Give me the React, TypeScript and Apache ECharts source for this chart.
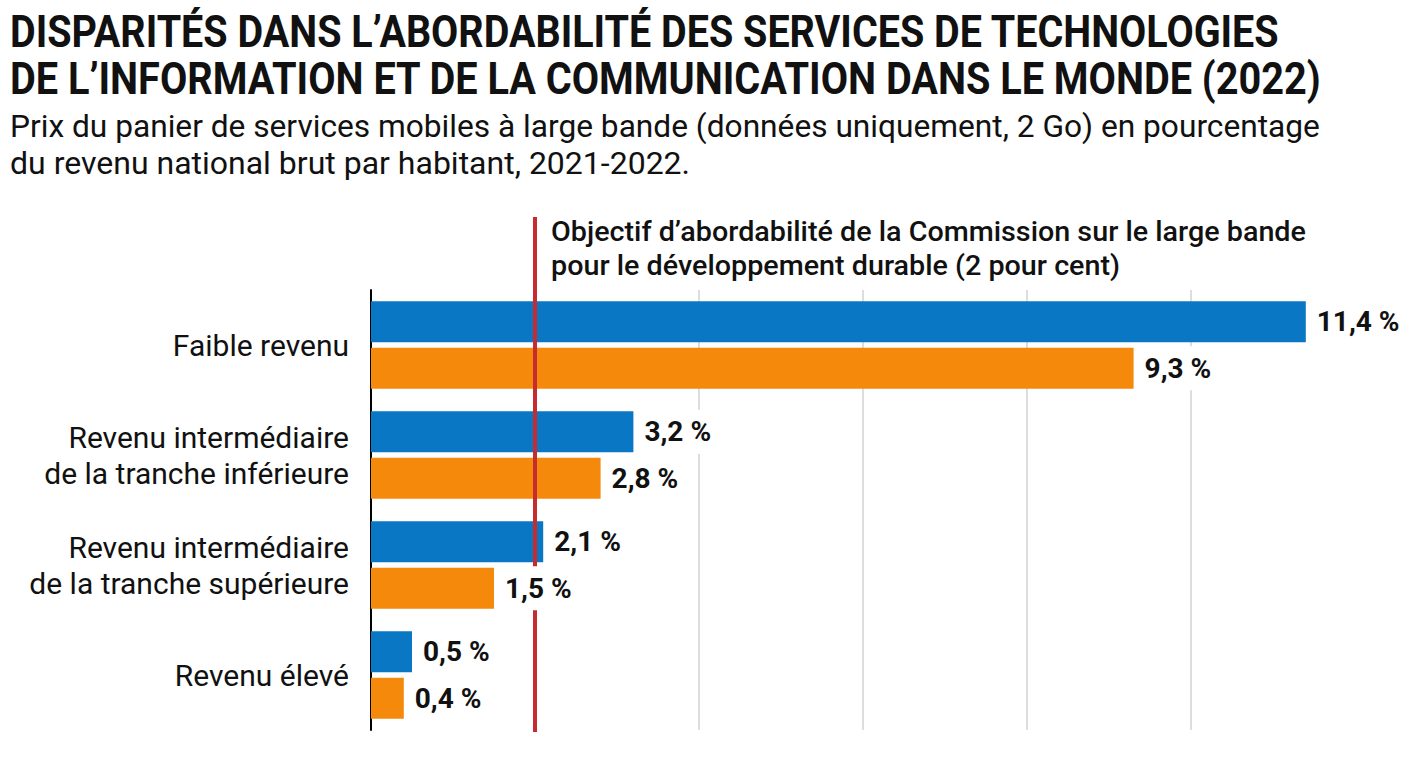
import React, { useEffect, useRef } from "react";
import * as echarts from "echarts";

const CATEGORIES = [
  "Faible revenu",
  "Revenu intermédiaire\nde la tranche inférieure",
  "Revenu intermédiaire\nde la tranche supérieure",
  "Revenu élevé",
];
const SERIES_2021 = [11.4, 3.2, 2.1, 0.5];
const SERIES_2022 = [9.3, 2.8, 1.5, 0.4];
const GRID_VALUES = [4, 6, 8, 10];
const TARGET = 2;

const TITLE_LINES = [
  "DISPARITÉS DANS L’ABORDABILITÉ DES SERVICES DE TECHNOLOGIES",
  "DE L’INFORMATION ET DE LA COMMUNICATION DANS LE MONDE (2022)",
];
const SUBTITLE_LINES = [
  "Prix du panier de services mobiles à large bande (données uniquement, 2 Go) en pourcentage",
  "du revenu national brut par habitant, 2021-2022.",
];
const NOTE_LINES = [
  "Objectif d’abordabilité de la Commission sur le large bande",
  "pour le développement durable (2 pour cent)",
];

const BLUE = "#0A77C5";
const ORANGE = "#F4890C";
const RED = "#C62B30";
const INK = "#111111";

const GRID = { left: 371, right: 53, top: 290, bottom: 38 };

function measure(text: string, font: string): number {
  const c = document.createElement("canvas").getContext("2d");
  if (!c) return text.length * 10;
  c.font = font;
  return c.measureText(text).width;
}

function hasFont(name: string): boolean {
  const s = "abcdefghijklmnopqrstuvwxyz ABCDEFGHIJ 0123456789";
  const a = measure(s, "40px monospace");
  const b = measure(s, `40px '${name}', monospace`);
  return Math.abs(a - b) > 2;
}

const fmt = (v: number) => v.toFixed(1).replace(".", ",") + " %";

export default function App() {
  const ref = useRef<HTMLDivElement>(null);
  useEffect(() => {
    if (!ref.current) return;
    const narrow = hasFont("Liberation Sans Narrow");
    const FONT = narrow
      ? "'Liberation Sans Narrow', Roboto, sans-serif"
      : "Roboto, 'Noto Sans', sans-serif";
    const catSize = narrow ? 35 : 30;
    const valSize = narrow ? 30 : 28;

    const chart = echarts.init(ref.current, null, { renderer: "svg" });
    const labelStyle = {
      show: true,
      position: "right" as const,
      distance: 8,
      formatter: (p: any) => fmt(p.value),
      fontFamily: FONT,
      fontWeight: "bold" as const,
      fontSize: valSize,
      color: INK,
      backgroundColor: "#ffffff",
      padding: [8, 3],
    };
    const barCommon = { barWidth: 41, barGap: "14%" };
    chart.setOption({
      animation: false,
      grid: { ...GRID, containLabel: false },
      xAxis: {
        type: "value",
        min: 0,
        max: 12,
        interval: 2,
        axisLine: { show: false },
        axisTick: { show: false },
        axisLabel: { show: false },
        splitLine: { show: false },
      },
      yAxis: [
        {
          type: "category",
          inverse: true,
          data: CATEGORIES,
          axisLine: { show: true, lineStyle: { color: "#000", width: 2 } },
          axisTick: { show: false },
          axisLabel: {
            margin: 22,
            fontFamily: FONT,
            fontSize: catSize,
            lineHeight: 36,
            color: INK,
            align: "right",
          },
        },
        {
          type: "category",
          inverse: true,
          data: CATEGORIES,
          show: false,
        },
      ],
      series: [
        {
          type: "line",
          data: [],
          silent: true,
          markLine: {
            silent: true,
            symbol: "none",
            label: { show: false },
            lineStyle: { color: "#d2d2d2", width: 1.5, type: "solid" },
            data: GRID_VALUES.map((v) => ({ xAxis: v })),
          },
        },
        {
          name: "2021",
          type: "bar",
          z: 10,
          yAxisIndex: 0,
          data: SERIES_2021,
          ...barCommon,
          itemStyle: { color: BLUE },
        },
        {
          name: "2022",
          type: "bar",
          z: 10,
          yAxisIndex: 0,
          data: SERIES_2022,
          ...barCommon,
          itemStyle: { color: ORANGE },
        },
        {
          name: "2021 étiquettes",
          type: "bar",
          z: 30,
          yAxisIndex: 1,
          silent: true,
          data: SERIES_2021,
          ...barCommon,
          itemStyle: { color: "rgba(0,0,0,0)" },
          label: labelStyle,
        },
        {
          name: "2022 étiquettes",
          type: "bar",
          z: 30,
          yAxisIndex: 1,
          silent: true,
          data: SERIES_2022,
          ...barCommon,
          itemStyle: { color: "rgba(0,0,0,0)" },
          label: labelStyle,
        },
      ],
    });

    const targetX = chart.convertToPixel({ xAxisIndex: 0 }, TARGET) as number;
    const gridBottom = 768 - GRID.bottom;

    const titleFont = `bold 45px ${FONT}`;
    const subFont = `32px ${FONT}`;
    const noteFont = narrow ? `bold 29px ${FONT}` : `500 28px ${FONT}`;
    const fit = (text: string, font: string, w: number) => w / measure(text, font);

    const textEl = (text: string, x: number, y: number, font: string, scale: number) => ({
      type: "text",
      x,
      y,
      scaleX: scale,
      z: 100,
      style: {
        text,
        font,
        fill: INK,
        textAlign: "left",
        textVerticalAlign: "middle",
      },
    });

    const noteScale = fit(NOTE_LINES[0], noteFont, 755);
    chart.setOption({
      graphic: [
        textEl(TITLE_LINES[0], 10, 32, titleFont, fit(TITLE_LINES[0], titleFont, 1270)),
        textEl(TITLE_LINES[1], 10, 79, titleFont, fit(TITLE_LINES[1], titleFont, 1312)),
        textEl(SUBTITLE_LINES[0], 10, 126, subFont, fit(SUBTITLE_LINES[0], subFont, 1310)),
        textEl(SUBTITLE_LINES[1], 10, 163, subFont, fit(SUBTITLE_LINES[1], subFont, 680)),
        textEl(NOTE_LINES[0], targetX + 16, 232, noteFont, noteScale),
        textEl(NOTE_LINES[1], targetX + 16, 266, noteFont, noteScale),
        {
          type: "line",
          z: 20,
          shape: { x1: targetX, y1: 217, x2: targetX, y2: gridBottom + 2 },
          style: { stroke: RED, lineWidth: 4 },
        },
      ],
    });

    return () => chart.dispose();
  }, []);

  return (
    <div
      ref={ref}
      style={{ position: "fixed", left: 0, top: 0, width: 1408, height: 768, background: "#fff" }}
    />
  );
}
